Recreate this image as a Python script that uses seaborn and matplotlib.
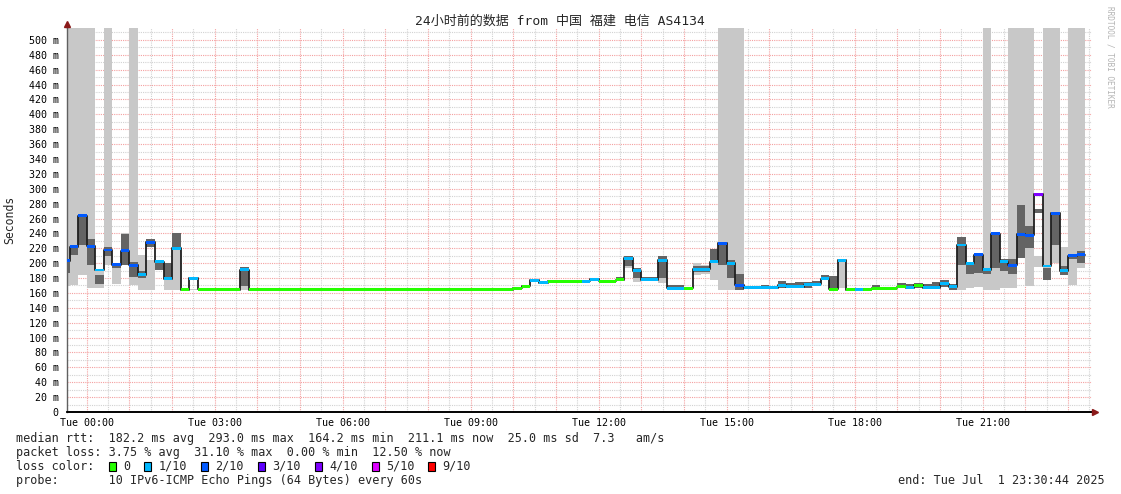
import numpy as np
import pandas as pd
import matplotlib
matplotlib.use('Agg')
import matplotlib.pyplot as plt
from matplotlib.patches import Rectangle
import seaborn as sns

W, H = 1121, 494

# ===============================
# DATA  (12-minute bins, bin k starts at -0.6 h + k*0.2 h from Tue 00:00)
# ===============================
median_ms = [
    203.5, 222, 263.6, 223, 190.8, 217.7, 197.6, 217, 197, 184.6,
    228, 201.9, 179, 220, 164.3, 180, 165, 164, 164, 164,
    164, 191.4, 164, 164, 164, 164, 164, 164, 164, 164,
    164, 164, 164, 164, 164, 164, 164, 164, 164, 164,
    164, 164, 164, 164, 165, 165, 164, 164, 164, 164,
    164, 164, 164, 166, 169, 177, 174, 175.5, 175.5, 175.5,
    175.5, 176, 178.6, 175.5, 175.5, 177.4, 206.6, 190, 177.4, 177.4,
    204, 166, 166, 166, 192, 192, 202, 227, 200, 170,
    167, 167, 167, 167, 170, 168, 168, 170.7, 171.7, 179,
    165, 204, 164.3, 164.3, 165, 166, 165.7, 166, 168, 167.2,
    170, 166.7, 166.7, 172.5, 168, 224.4, 200, 211, 191.4, 239.5,
    202, 197, 238.6, 237.2, 292.6, 196.2, 267, 189.6, 210, 211,
    None,
]
loss_n = [
    2, 2, 2, 2, 1, 2, 2, 2, 2, 1,
    2, 1, 1, 1, 0, 1, 0, 0, 0, 0,
    0, 1, 0, 0, 0, 0, 0, 0, 0, 0,
    0, 0, 0, 0, 0, 0, 0, 0, 0, 0,
    0, 0, 0, 0, 0, 0, 0, 0, 0, 0,
    0, 0, 0, 0, 0, 1, 1, 0, 0, 0,
    0, 1, 1, 0, 0, 0, 1, 1, 1, 1,
    1, 1, 1, 0, 1, 1, 1, 2, 1, 2,
    1, 1, 1, 1, 1, 1, 1, 1, 1, 1,
    0, 1, 0, 1, 0, 0, 0, 0, 0, 1,
    0, 1, 1, 1, 1, 1, 1, 2, 1, 2,
    1, 2, 2, 2, 4, 1, 2, 1, 2, 2,
    0,
]
# outer (light) smoke band; None = no band
smoke_lo = [
    169, 171, 184, 166, 166, 197, 172, 198, 170, 164,
    164, 191, 164, 164, None, 164, None, None, None, None,
    None, 164, None, None, None, None, None, None, None, None,
    None, None, None, None, None, None, None, None, None, None,
    None, None, None, None, None, None, None, None, None, None,
    None, None, None, None, None, None, None, None, None, None,
    None, None, None, None, None, None, 194, 175, None, None,
    173, None, None, None, 184, 186, 177, 164, 164, 164,
    None, None, None, None, None, None, None, None, None, None,
    None, 167, None, None, None, None, 165, None, None, None,
    None, None, None, None, None, 164, 166, 168, 164, 164,
    166, 166, 207, 169, 195, 178, 200, 184, 170, 194,
    None,
]
smoke_hi = [
    None, None, None, None, 192, None, 200, 240, None, 211,
    204, 204, 200, 241, None, 165, None, None, None, None,
    None, 195, None, None, None, None, None, None, None, None,
    None, None, None, None, None, None, None, None, None, None,
    None, None, None, None, None, None, None, None, None, None,
    None, None, None, None, None, None, None, None, None, None,
    None, None, None, None, None, None, 209, 193, None, None,
    209, None, None, None, 200, 198, 219, None, None, None,
    None, None, None, None, None, None, None, None, None, None,
    None, 204, None, None, None, None, 168, None, None, None,
    None, None, None, None, None, 235, 200, 211, None, 240,
    205, None, None, None, 210, None, None, 222, None, None,
    None,
]
# bins whose highest pings run off the top of the chart
over_range = [0, 1, 2, 3, 5, 8, 77, 78, 79, 108, 111, 112, 113, 115, 116, 118, 119]
# inner (dark) smoke band
core_lo = [
    187, 211, 224, 197, 172, 210, 193, 198, 181, 180,
    222, 191, 180, 220, None, None, None, None, None, None,
    None, 169, None, None, None, None, None, None, None, None,
    None, None, None, None, None, None, None, None, None, None,
    None, None, None, None, None, None, None, None, None, None,
    None, None, None, None, None, None, None, None, None, None,
    None, None, None, None, 175, 177, 196, 180, 177, 177,
    180, 166, 166, None, 188, 188, 202, 198, 180, 164,
    None, None, 166, None, 167, 167, 167, 167, 170, 177,
    165, None, None, None, None, 166, None, None, 166, 166,
    166, 166, 166, 168, 164, 197, 186, 187, 186, 193,
    190, 185, 207, 220, 268, 178, 225, 184, 205, 200,
    None,
]
core_hi = [
    204, 222, 263, 233, 184, 222, 200, 239, 201, 190,
    233, 204, 200, 241, None, None, None, None, None, None,
    None, 195, None, None, None, None, None, None, None, None,
    None, None, None, None, None, None, None, None, None, None,
    None, None, None, None, None, None, None, None, None, None,
    None, None, None, None, None, None, None, None, None, None,
    None, None, None, None, 178, 181, 209, 193, 182, 182,
    209, 170, 170, None, 196, 196, 219, 228, 204, 186,
    None, None, 171, None, 176, 173, 175, 175, 176, 184,
    183, None, None, None, None, 171, None, None, 173, 172,
    174, 172, 175, 178, 172, 235, 197, 209, 192, 240,
    205, 205, 278, 250, 273, 194, 267, 196, 210, 217,
    None,
]

loss_colors = {0: '#26ff00', 1: '#00b8ff', 2: '#0059ff', 3: '#5e00ff',
               4: '#7e00ff', 5: '#dd00ff', 9: '#ff0000'}
legend_loss = [0, 1, 2, 3, 4, 5, 9]
legend_loss_labels = ['0', '1/10', '2/10', '3/10', '4/10', '5/10', '9/10']

hour_ticks = [0, 3, 6, 9, 12, 15, 18, 21]
hour_labels = ['Tue 00:00', 'Tue 03:00', 'Tue 06:00', 'Tue 09:00',
               'Tue 12:00', 'Tue 15:00', 'Tue 18:00', 'Tue 21:00']

title = '24小时前的数据 from 中国 福建 电信 AS4134'
stats_lines = [
    'median rtt:  182.2 ms avg  293.0 ms max  164.2 ms min  211.1 ms now  25.0 ms sd  7.3   am/s',
    'packet loss: 3.75 % avg  31.10 % max  0.00 % min  12.50 % now',
]
probe_line = 'probe:       10 IPv6-ICMP Echo Pings (64 Bytes) every 60s'
end_line = 'end: Tue Jul  1 23:30:44 2025'

# ===============================
# FRAME
# ===============================
df = pd.DataFrame({
    'median': pd.to_numeric(pd.Series(median_ms), errors='coerce'),
    'loss': loss_n,
    'slo': pd.to_numeric(pd.Series(smoke_lo), errors='coerce'),
    'shi': pd.to_numeric(pd.Series(smoke_hi), errors='coerce'),
    'clo': pd.to_numeric(pd.Series(core_lo), errors='coerce'),
    'chi': pd.to_numeric(pd.Series(core_hi), errors='coerce'),
})
df['t'] = -0.6 + 0.2 * np.arange(len(df))
df['over'] = df.index.isin(over_range)

X0, X1 = -0.462, 23.56
YTOP = 516

sns.set_theme(style='white')
plt.rcParams['font.family'] = ['DejaVu Sans Mono', 'Noto Sans CJK SC']

fig = plt.figure(figsize=(W / 100, H / 100), dpi=100)
fig.patch.set_facecolor('white')
ax = fig.add_axes([67 / W, 1 - 412 / H, (1092 - 67) / W, (412 - 28) / H])
ax.set_xlim(X0, X1)
ax.set_ylim(0, YTOP)
ax.set_facecolor('white')

# grid
dot = (0, (1, 1))
for h in np.arange(0, 24, 0.5):
    if X0 < h < X1:
        major = float(h).is_integer()
        ax.axvline(h, color='#f4a0a0' if major else '#d2d2d2', lw=0.8,
                   ls=dot, zorder=1)
for v in range(10, 520, 10):
    ax.axhline(v, color='#f4a0a0' if v % 20 == 0 else '#d2d2d2', lw=0.8,
               ls=dot, zorder=1)

# smoke
light = df.dropna(subset=['slo'])
light_top = np.where(light['over'], YTOP, light['shi'])
ax.bar(light['t'], light_top - light['slo'], bottom=light['slo'], width=0.2,
       align='edge', color='#c8c8c8', linewidth=0, zorder=2)
core = df.dropna(subset=['clo'])
ax.bar(core['t'], core['chi'] - core['clo'], bottom=core['clo'], width=0.2,
       align='edge', color='#646464', linewidth=0, zorder=2.5)

# median step line
line = df.dropna(subset=['median'])[['t', 'median']].copy()
line = pd.concat([line, pd.DataFrame({'t': [line['t'].iloc[-1] + 0.2],
                                      'median': [line['median'].iloc[-1]]})])
sns.lineplot(data=line, x='t', y='median', drawstyle='steps-post',
             color='#202020', linewidth=1.3, estimator=None, ax=ax, zorder=3)

# loss-coloured median band
band = df.dropna(subset=['median'])
ax.bar(band['t'], 4.0, bottom=band['median'] - 2.0, width=0.2, align='edge',
       color=[loss_colors[l] for l in band['loss']], linewidth=0, zorder=4)

# axes
ax.set_xlabel('')
ax.set_ylabel('')
for s in ['top', 'right']:
    ax.spines[s].set_visible(False)
ax.spines['left'].set_color('#606060')
ax.spines['left'].set_linewidth(1)
ax.spines['bottom'].set_color('#000000')
ax.spines['bottom'].set_linewidth(1.2)
ax.plot([X0, X1 + 0.06], [0, 0], color='black', lw=1.2, clip_on=False, zorder=5)
ax.plot([X0, X0], [YTOP, YTOP + 4], color='#606060', lw=1, clip_on=False)
ax.plot(X0, YTOP + 6, marker='^', ms=4.5, color='#8b1a1a', clip_on=False, zorder=6)
ax.plot(X1 + 0.08, 0, marker='>', ms=4.5, color='#8b1a1a', clip_on=False, zorder=6)

yt = list(range(0, 501, 20))
ax.set_yticks(yt)
ax.set_yticklabels(['0' if v == 0 else f'{v} m' for v in yt])
ax.set_xticks(hour_ticks)
ax.set_xticklabels(hour_labels)
ax.tick_params(axis='both', labelsize=7.2, colors='#000000', length=2,
               width=0.8, pad=2)
ax.tick_params(axis='y', pad=4)
for lbl in ax.get_xticklabels() + ax.get_yticklabels():
    lbl.set_color('black')

# titles and side texts
def fx(px):
    return px / W

def fy(py):
    return 1 - py / H

fig.text(fx(560), fy(21), title, ha='center', va='center', fontsize=9.4,
         family=['DejaVu Sans Mono', 'Noto Sans CJK SC'])
fig.text(fx(10), fy(220), 'Seconds', rotation=90, ha='center', va='center',
         fontsize=8.3)
fig.text(fx(1110), fy(6), 'RRDTOOL / TOBI OETIKER', rotation=270, ha='center',
         va='top', fontsize=5.6, color='#b4b4b4')

# legend block
CW = 7.1
LX = 16.5
fig.text(fx(LX), fy(438), stats_lines[0], ha='left', va='center', fontsize=8.5)
fig.text(fx(LX), fy(452), stats_lines[1], ha='left', va='center', fontsize=8.5)
fig.text(fx(LX), fy(466), 'loss color:', ha='left', va='center', fontsize=8.5)
idx = 13
for key, lab in zip(legend_loss, legend_loss_labels):
    bx = LX + idx * CW
    fig.add_artist(Rectangle((fx(bx), fy(470.5)), 7 / W, 9 / H,
                             transform=fig.transFigure,
                             facecolor=loss_colors[key], edgecolor='black',
                             linewidth=0.8))
    fig.text(fx(bx + 2 * CW), fy(466), lab, ha='left', va='center', fontsize=8.5)
    idx += 2 + len(lab) + 2
fig.text(fx(LX), fy(480), probe_line, ha='left', va='center', fontsize=8.5)
fig.text(fx(1105), fy(480), end_line, ha='right', va='center', fontsize=8.5)

fig.savefig('out.png', dpi=100, facecolor='white')
